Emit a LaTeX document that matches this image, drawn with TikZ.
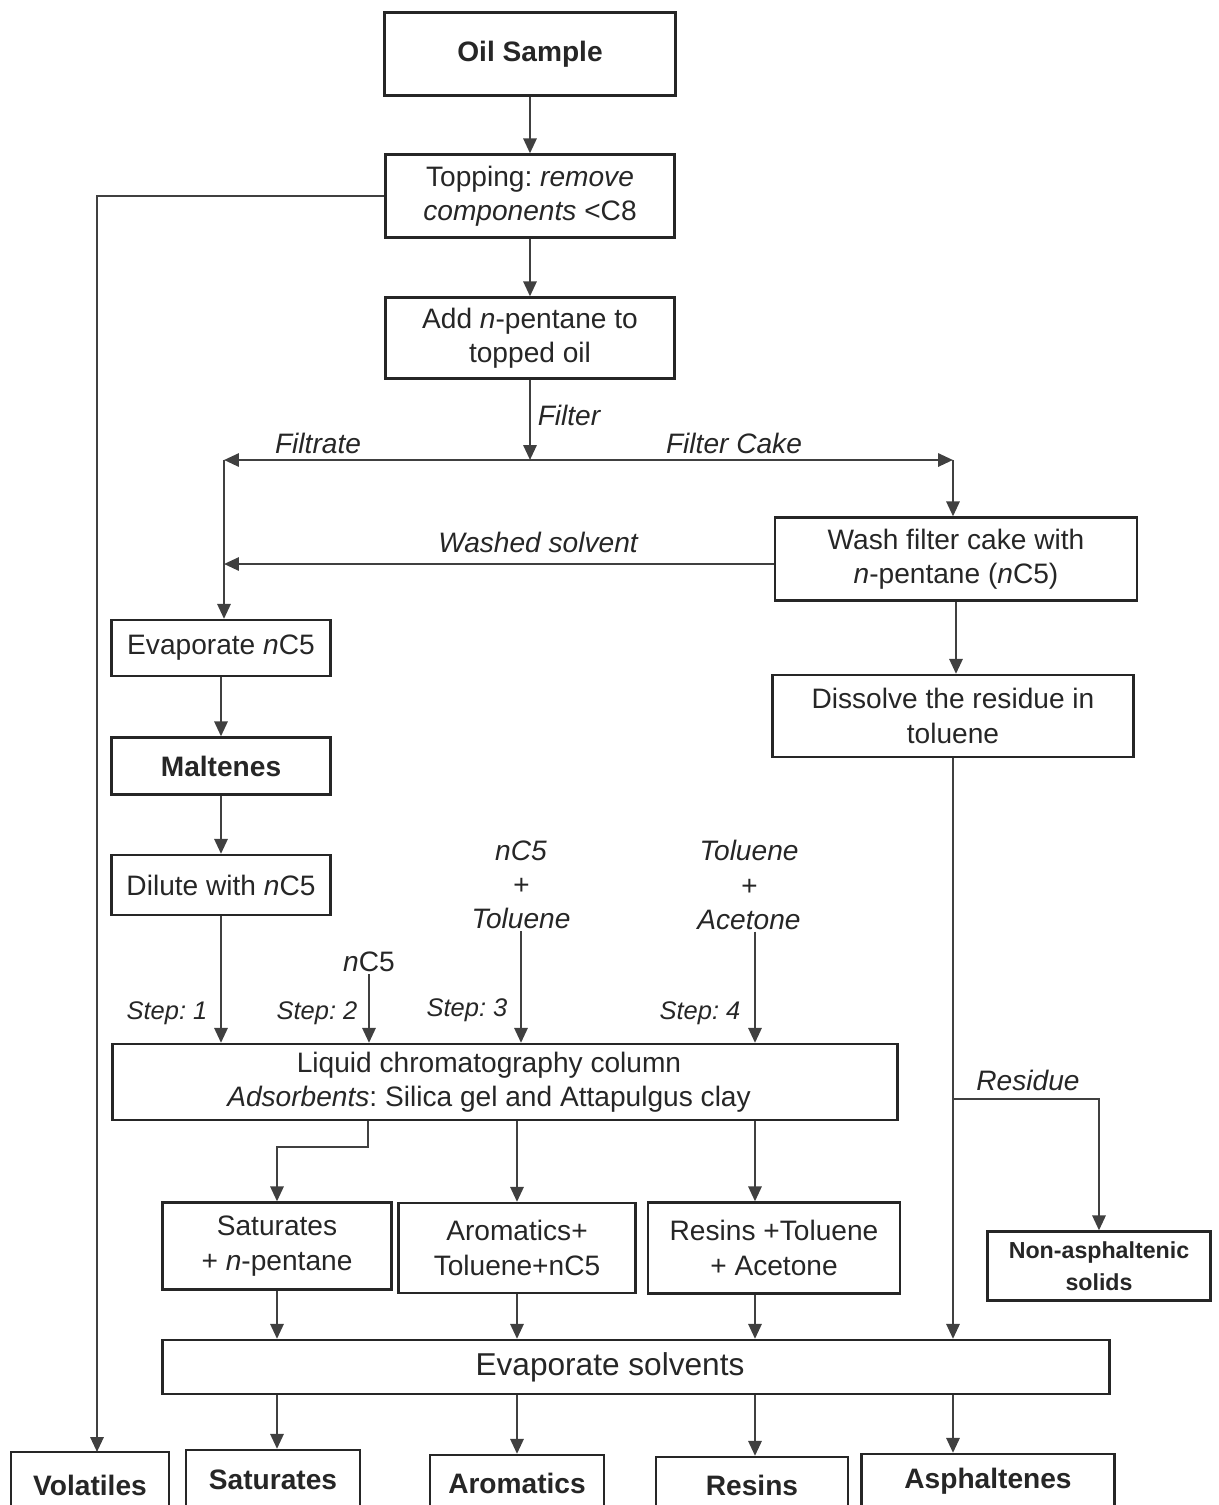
\documentclass[tikz,border=0pt]{standalone}
\usepackage{fontspec}
\setmainfont{Liberation Sans}
\usetikzlibrary{arrows.meta,calc}
\frenchspacing

\tikzset{
	txt/.style={font=\fontsize{16}{19.5}\selectfont, text=black!85, align=center, inner sep=1pt},
	lbl/.style={txt, font=\fontsize{16}{19.5}\selectfont\itshape},
	steplbl/.style={txt, font=\fontsize{14.5}{17}\selectfont\itshape},
	box/.style={txt, draw=black!85, line width=1.3pt, inner sep=2pt},
	sz/.style 2 args={minimum width=#1*0.02cm, minimum height=#2*0.02cm},
	conn/.style={line width=1.4pt, draw=black!75},
	arr/.style={conn, -{Triangle[length=8.5pt,width=7.5pt]}},
	arrboth/.style={conn, {Triangle[length=8.5pt,width=7.5pt]}-{Triangle[length=8.5pt,width=7.5pt]}},
}

\begin{document}
\begin{tikzpicture}[x=0.02cm, y=-0.02cm]
			%%%%% START %%%%%
			\useasboundingbox (0,0) rectangle (1219,1505);
			
			% main column
			\node[box, sz={291}{83}] (oil) at (530,54) {\textbf{Oil Sample}};
			\node[box, sz={289}{83}] (top) at (530,196) {Topping: \textit{remove}\\\textit{components} <C8};
			\node[box, sz={289}{81}] (add) at (530,338) {Add \textit{n}-pentane to\\topped oil};
			
			% filter cake side
			\node[box, sz={362}{83}] (wash) at (956,559) {Wash filter cake with\\\textit{n}-pentane (\textit{n}C5)};
			\node[box, sz={361}{82}] (diss) at (953,716) {Dissolve the residue in\\toluene};
			
			% filtrate side
			\node[box, sz={219}{56}] (evap) at (221,648) {Evaporate \textit{n}C5};
			\node[box, sz={219}{57}] (malt) at (221,766) {\textbf{Maltenes}};
			\node[box, sz={219}{60}] (dil) at (221,885) {Dilute with \textit{n}C5};
			
			\node[box, sz={785}{76}] (lc) at (505,1082) {Liquid chromatography column\hspace*{0.64cm}\\\textit{Adsorbents}: Silica gel and Attapulgus clay\hspace*{0.64cm}};
			
			\node[box, sz={229}{87}] (sat) at (277,1246) {Saturates\\+ \textit{n}-pentane};
			\node[box, sz={237}{90}] (aro) at (517,1248) {Aromatics+\\Toluene+nC5};
			\node[box, sz={252}{91}] (res) at (774,1248) {Resins +Toluene\\+ Acetone};
			\node[box, sz={223}{69}, font=\fontsize{13.2}{18}\selectfont\bfseries] (nonasph) at (1099,1266) {Non-asphaltenic\\solids};
			
			\node[box, sz={947}{54}, font=\fontsize{18}{21}\selectfont] (evs) at (636,1367) {Evaporate solvents\hspace*{1.04cm}};
			
			% fractions
			\node[box, sz={158}{66}] (vol) at (90,1485) {\textbf{Volatiles}};
			\node[box, sz={174}{60}] (satf) at (273,1480) {\textbf{Saturates}};
			\node[box, sz={174}{56}] (arof) at (517,1483) {\textbf{Aromatics}};
			\node[box, sz={192}{56}] (resf) at (752,1485) {\textbf{Resins}};
			\node[box, sz={253}{54}] (asphf) at (988,1481) {\textbf{Asphaltenes}};
			
			% labels
			\node[lbl] (filter) at (569,415) {Filter};
			\node[lbl] (filtrate) at (318,443) {Filtrate};
			\node[lbl] (cake) at (734,443) {Filter Cake};
			\node[lbl] (washed) at (538,542) {Washed solvent};
			\node[lbl] (mix3) at (521,885) {\textit{n}C5\\+\\Toluene};
			\node[lbl] (mix4) at (749,885) {Toluene\\+\\Acetone};
			\node[txt] (n2) at (369,962) {\textit{n}C5};
			\node[lbl] (residue) at (1028,1080) {Residue};
			\node[steplbl] (s1) at (167,1013) {Step: 1};
			\node[steplbl] (s2) at (317,1013) {Step: 2};
			\node[steplbl] (s3) at (467,1010) {Step: 3};
			\node[steplbl] (s4) at (700,1013) {Step: 4};
			
			\coordinate (fL) at (224,460);
			\coordinate (fM) at (530,460);
			\coordinate (fR) at (953,460);
			\coordinate (wL) at (224,564);
			\coordinate (volT) at (97,1452);
			\coordinate (bend) at (368,1147);
			\coordinate (rb) at (953,1099);
			\coordinate (c3) at (755,0);
			
			% connectors
			\draw[arr] (oil) -- (top);
			\draw[arr] (top) -- (add);
			\draw[arr] (add) -- (fM);
			\draw[arrboth] (fL) -- (fR);
			\draw[arr] (fL) -- (evap.north -| fL);
			\draw[arr] (fR) -- (wash.north -| fR);
			\draw[arr] (wash.west |- wL) -- (wL);
			\draw[arr] (wash) -- (diss.north -| wash.south);
			\draw[arr] (evap) -- (malt);
			\draw[arr] (malt) -- (dil);
			\draw[arr] (top.west) -| (volT);
			
			\draw[arr] (dil) -- (lc.north -| dil.south);
			\draw[arr] (n2) -- (lc.north -| n2.south);
			\draw[arr] (mix3) -- (lc.north -| mix3.south);
			\draw[arr] (mix4.south -| c3) -- (lc.north -| c3);
			
			\draw[arr] (lc.south -| bend) -- (bend) -| (sat);
			\draw[arr] (lc.south -| aro.north) -- (aro);
			\draw[arr] (lc.south -| c3) -- (res.north -| c3);
			
			\draw[arr] (sat) -- (evs.north -| sat.south);
			\draw[arr] (aro) -- (evs.north -| aro.south);
			\draw[arr] (res.south -| c3) -- (evs.north -| c3);
			\draw[arr] (diss) -- (evs.north -| diss.south);
			\draw[arr] (rb) -| (nonasph);
			
			\draw[arr] (evs.south -| sat) -- (satf.north -| sat);
			\draw[arr] (evs.south -| aro) -- (arof.north -| aro);
			\draw[arr] (evs.south -| c3) -- (resf.north -| c3);
			\draw[arr] (evs.south -| diss) -- (asphf.north -| diss);
			
			%%%%% END %%%%%
\end{tikzpicture}
\end{document}
